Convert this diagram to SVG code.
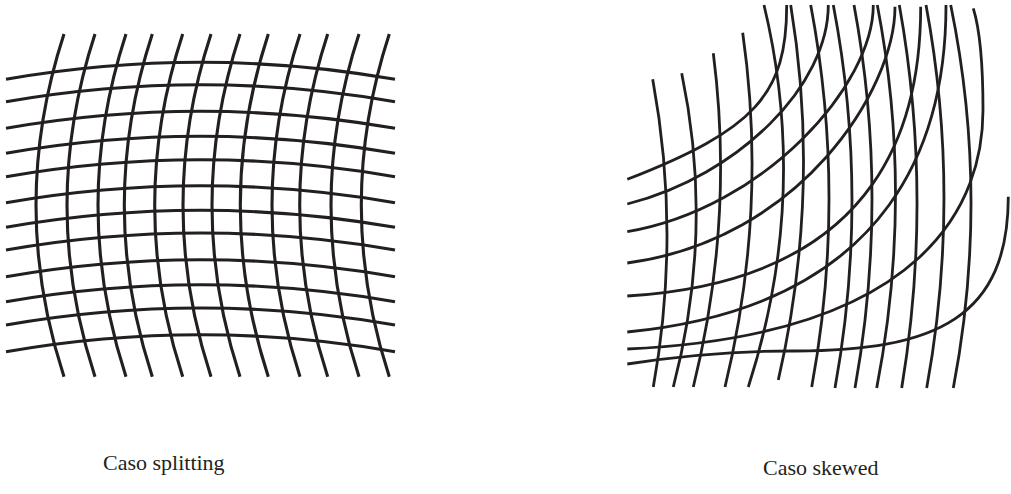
<svg xmlns="http://www.w3.org/2000/svg" width="1011" height="494" viewBox="0 0 1011 494">
<style>
.g{fill:none;stroke:#231f20;stroke-width:3.1;stroke-linecap:butt}
.s{fill:none;stroke:#231f20;stroke-width:2.8;stroke-linecap:butt}
.lbl{font-family:"Liberation Serif","Times New Roman",serif;font-size:22px;fill:#231f20}
</style>
<rect width="1011" height="494" fill="#fff"/>
<g id="splitting">
<g id="splitting-h">
<path class="g" d="M6,79.3 Q200.5,45.3 395,79.3"/>
<path class="g" d="M6,101.7 Q200.5,67.7 395,101.7"/>
<path class="g" d="M6,128.3 Q200.5,94.3 395,128.3"/>
<path class="g" d="M6,153.3 Q200.5,119.3 395,153.3"/>
<path class="g" d="M6,176.7 Q200.5,142.7 395,176.7"/>
<path class="g" d="M6,202.7 Q200.5,168.7 395,202.7"/>
<path class="g" d="M6,227.3 Q200.5,193.3 395,227.3"/>
<path class="g" d="M6,250 Q200.5,216 395,250"/>
<path class="g" d="M6,276.7 Q200.5,242.7 395,276.7"/>
<path class="g" d="M6,301.7 Q200.5,267.7 395,301.7"/>
<path class="g" d="M6,325 Q200.5,291 395,325"/>
<path class="g" d="M6,351.7 Q200.5,317.7 395,351.7"/>
</g>
<g id="splitting-v">
<path class="g" d="M64,34 Q8,205.3 64,376.7"/>
<path class="g" d="M95,34 Q39,205.3 95,376.7"/>
<path class="g" d="M126,34 Q70,205.3 126,376.7"/>
<path class="g" d="M152.3,34 Q96.3,205.3 152.3,376.7"/>
<path class="g" d="M182.7,34 Q126.7,205.3 182.7,376.7"/>
<path class="g" d="M211,34 Q155,205.3 211,376.7"/>
<path class="g" d="M240,34 Q184,205.3 240,376.7"/>
<path class="g" d="M268.3,34 Q212.3,205.3 268.3,376.7"/>
<path class="g" d="M300,34 Q244,205.3 300,376.7"/>
<path class="g" d="M327.7,34 Q271.7,205.3 327.7,376.7"/>
<path class="g" d="M359,34 Q303,205.3 359,376.7"/>
<path class="g" d="M389.3,34 Q333.3,205.3 389.3,376.7"/>
</g>
</g>
<g id="skewed">
<g id="skewed-v">
<path class="s" d="M652.7,79.3 Q681,233 653.3,387"/>
<path class="s" d="M681.7,73.3 Q714.5,230 673.3,387"/>
<path class="s" d="M713.3,53.3 Q734.7,220 693.3,387"/>
<path class="s" d="M742.7,32.7 Q768,210 725,387"/>
<path class="s" d="M764,5 Q809.8,196 748.3,387"/>
<path class="s" d="M790.7,5 Q821.5,192 778.3,380"/>
<path class="s" d="M810.7,5 Q846.8,196 811.7,387"/>
<path class="s" d="M833.3,5 Q869.8,196 835,388"/>
<path class="s" d="M854,5 Q889.5,196 855,388"/>
<path class="s" d="M877.3,5 Q914,196 876.7,388"/>
<path class="s" d="M899.3,5 Q933.5,196 901.7,388"/>
<path class="s" d="M926,5 Q961.6,196 926.7,388"/>
<path class="s" d="M950.7,5 Q990,196 953.3,388"/>
</g>
<g id="skewed-h">
<path class="s" d="M627.3,179.3 C755,129.5 786.7,94.7 786.7,5"/>
<path class="s" d="M627.3,204 C740,175 828.3,85 828.3,5"/>
<path class="s" d="M627.3,231.7 C765,208 873.3,85 873.3,5"/>
<path class="s" d="M627.3,263 C800,240 895,90 895,6.7"/>
<path class="s" d="M627.3,296 C890,280 920.7,110 920.7,6.7"/>
<path class="s" d="M627.3,332 C900,305 946,130 946,5"/>
<path class="s" d="M627.3,349 C930,335 983,200 983,110 C983,70 980,30 973.3,8.3"/>
<path class="s" d="M627.3,364 C680,356 740,351 790,351 C940,352 1008,315 1008.3,196.7"/>
</g>
</g>
<g id="labels">
<text class="lbl" x="103" y="470">Caso splitting</text>
<text class="lbl" x="763" y="475">Caso skewed</text>
</g>
</svg>
